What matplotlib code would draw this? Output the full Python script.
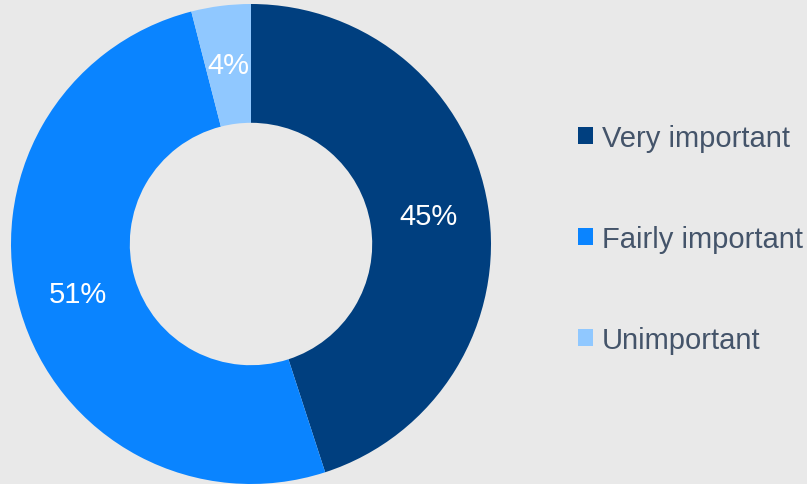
import matplotlib.pyplot as plt

plt.rcParams['font.family'] = ['Liberation Sans', 'DejaVu Sans']

labels = ["Very important", "Fairly important", "Unimportant"]
shares = [45, 51, 4]
colors = ["#003F7F", "#0A84FF", "#90C8FF"]
bg = "#E9E9E9"

fig = plt.figure(figsize=(8.07, 4.85), dpi=100, facecolor=bg)
ax = fig.add_axes([11 / 807, 0, 480 / 807, 480 / 485])
ax.set_facecolor(bg)

wedges, texts, autotexts = ax.pie(
    shares, colors=colors, startangle=90, counterclock=False,
    radius=1, wedgeprops=dict(width=0.495, linewidth=0),
    autopct="%d%%", pctdistance=0.75,
    textprops=dict(color="white", fontsize=21))
ax.set_aspect("equal")
ax.set_xlim(-1, 1)
ax.set_ylim(-1, 1)

leg = fig.legend(wedges, labels, loc="center left",
                 bbox_to_anchor=(552 / 807, 1 - 240 / 485),
                 frameon=False, fontsize=21, labelcolor="#44546A",
                 handlelength=0.5, handleheight=0.5, handletextpad=0.3,
                 labelspacing=2.5)

fig.savefig("out.png", dpi=100, facecolor=bg)
